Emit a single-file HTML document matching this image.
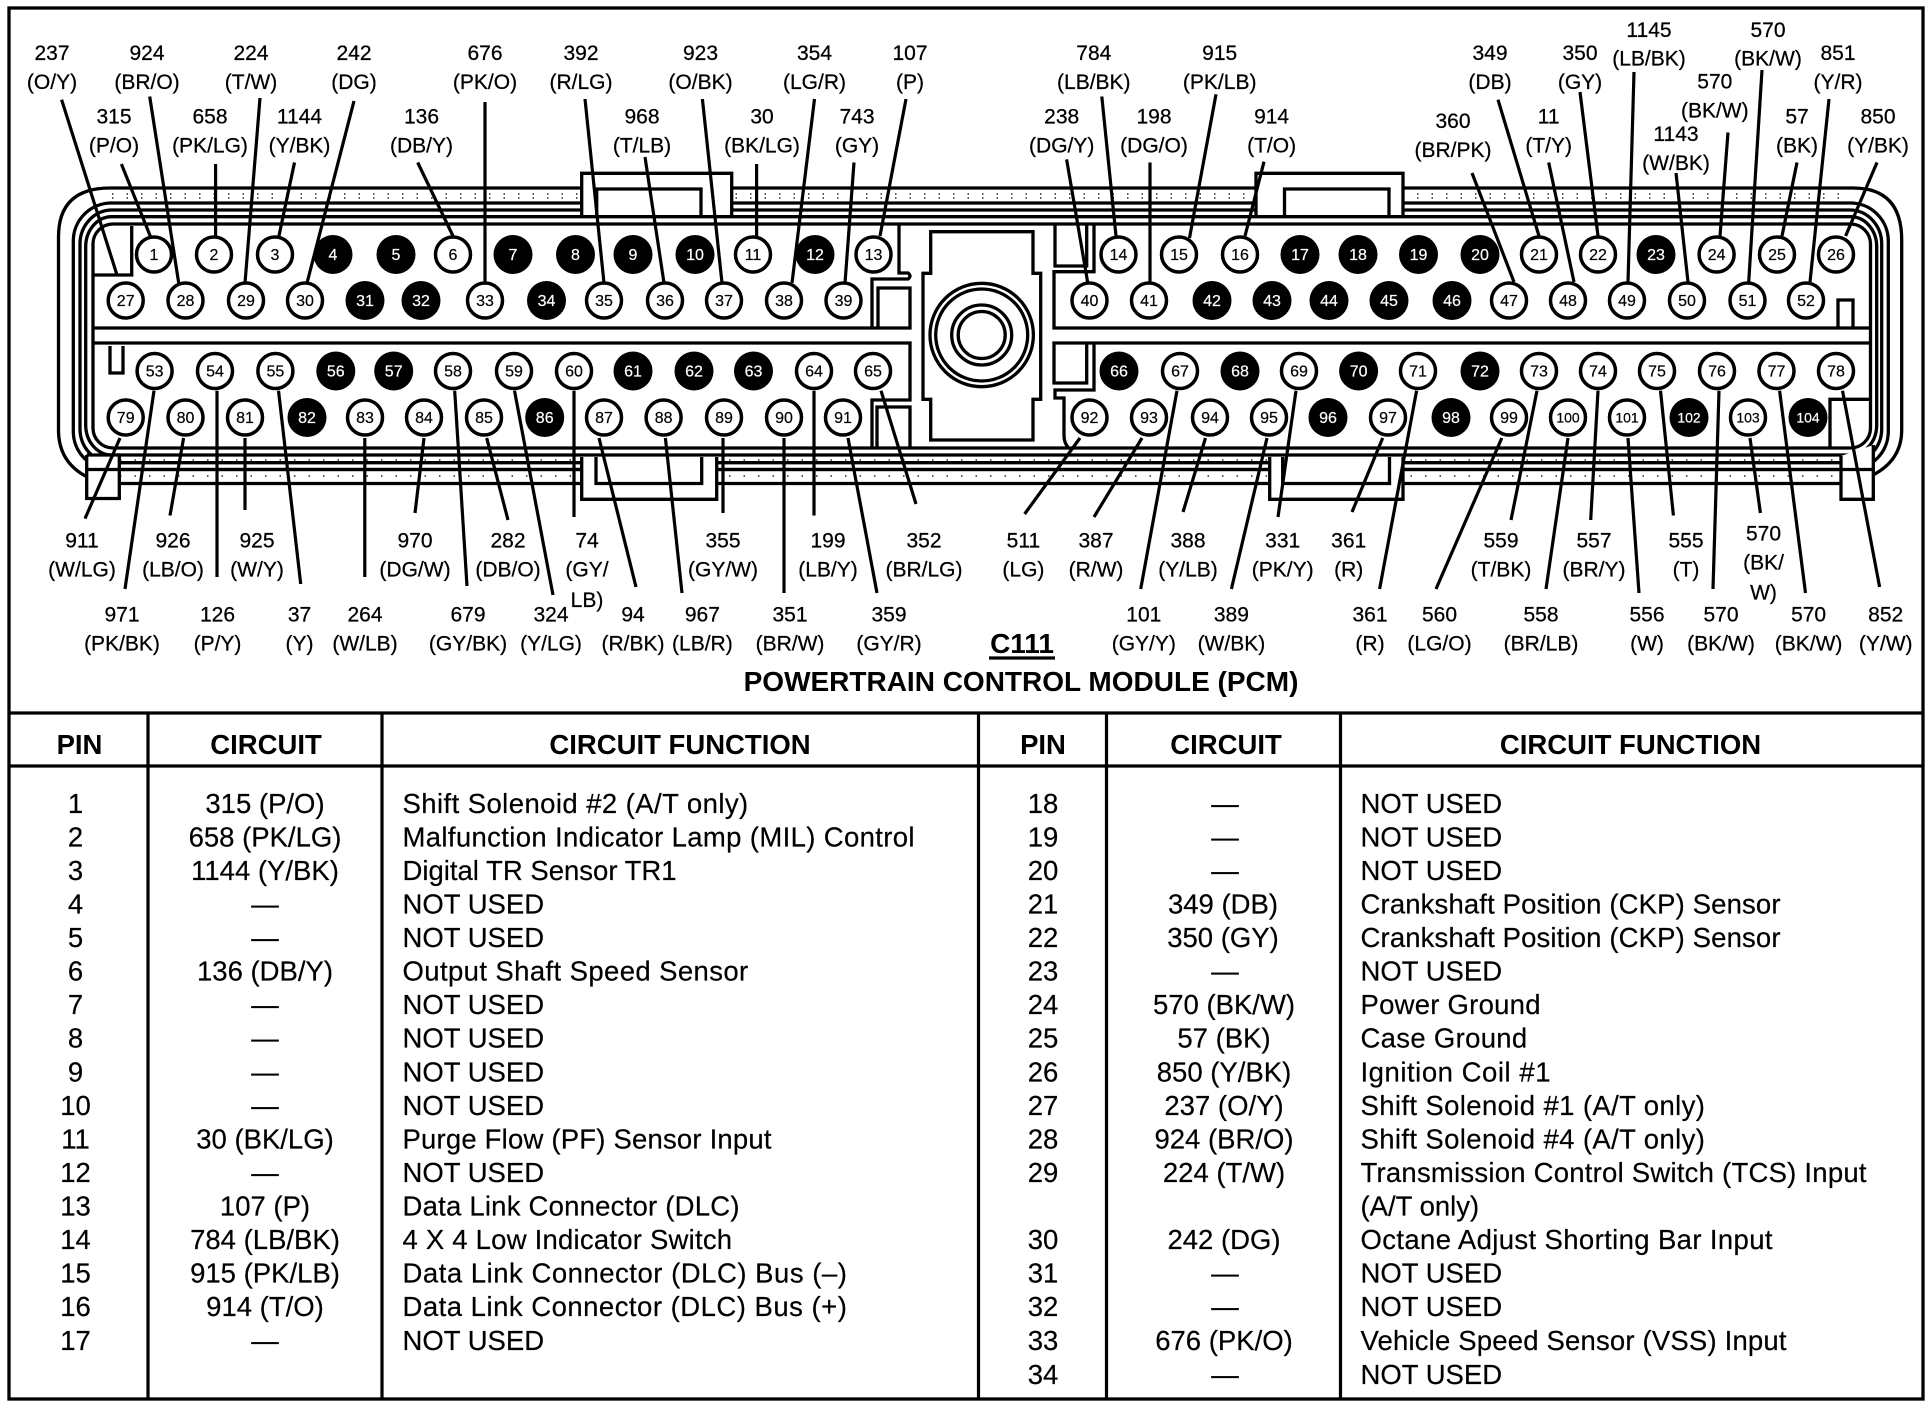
<!DOCTYPE html>
<html><head><meta charset="utf-8"><title>C111 PCM</title>
<style>
html,body{margin:0;padding:0;background:#fff}
svg{display:block}
text{font-family:"Liberation Sans",sans-serif;fill:#000}
.l{font-size:21px;text-anchor:middle;stroke:#000;stroke-width:.25}
.p{font-size:16px;text-anchor:middle;stroke:#000;stroke-width:.2}
.w{fill:#fff;stroke:#fff}
.s{fill:none;stroke:#000;stroke-width:3.3}
.f{fill:#fff;stroke:#000;stroke-width:3.3}
.c{fill:#fff;stroke:#000;stroke-width:3.5}
.t{font-size:27.5px;stroke:#000;stroke-width:.2}
.m{text-anchor:middle}
.h{font-size:27.5px;font-weight:bold;text-anchor:middle}
line{stroke:#000;stroke-width:3.2}
</style></head><body>
<svg xmlns="http://www.w3.org/2000/svg" width="1932" height="1408" viewBox="0 0 1932 1408">
<rect width="1932" height="1408" fill="#fff"/>
<rect x="9" y="8" width="1914" height="1391" class="s"/>
<!-- shell -->
<path class="s" d="M86.7,476.7 Q58.5,462 58.5,430 V237 Q58.5,188 110,188 H1853 Q1901.7,188 1901.7,240 V430 Q1901.7,460 1873,475"/>
<rect class="s" x="73.3" y="203" width="1815" height="266.5" rx="38" ry="38"/>
<rect class="s" x="80" y="210" width="1801.7" height="252.7" rx="32" ry="34"/>
<rect class="s" x="85.7" y="216.7" width="1791" height="238.3" rx="26" ry="30"/>
<path d="M112,194 H1850 M112,198 H1850 M112,225 H1850 M120,476 H1840 M120,460 H1840" fill="none" stroke="#000" stroke-width="1.2" stroke-dasharray="1.5 13"/>
<path class="f" d="M86.7,455 V498.5 H119.3 V455"/>
<path class="f" d="M1841,456 V499.3 H1873.3 V445"/>
<path class="s" d="M119.3,483.5 H1841 M86.7,469.5 H1873.3 M86.7,455 H120"/>
<!-- tabs -->
<path class="f" d="M581.7,215 V173.3 H731.7 V215"/>
<path class="s" d="M596.7,215 V189 H701 V215"/>
<path class="f" d="M1256,215 V173.3 H1403 V215"/>
<path class="s" d="M1284.5,215 V189 H1389 V215"/>
<path class="f" d="M581.7,457 V499.3 H716.7 V457"/>
<path class="s" d="M596,457 V483.5 H701.7 V457"/>
<path class="f" d="M1269.7,457 V499.3 H1403 V457"/>
<path class="s" d="M1282.7,457 V483.5 H1389.5 V457"/>
<!-- inner panels -->
<rect class="f" x="93" y="224" width="1777.5" height="224" rx="20"/>
<rect x="911" y="226" width="142" height="220" fill="#fff"/>
<path class="s" d="M899,224 V273 H908 Q912,276 908,279 H872 V328 H93 M878,328 V288 H910 V328 H872"/>
<path class="s" d="M93,343 H910 V400 H872 V448 M877,447 V407 H910 V447"/>
<path class="s" d="M1055,224 V266 H1086.7 V224 M1094,224 V271.7 H1054 V328 H1870"/>
<path class="s" d="M1870,343 H1054 V383 H1086.7 V343 M1094,343 V390 H1055 V398 H1064 V435 Q1064,443 1068,447"/>
<path class="s" d="M930.7,231.7 H1033 V273.3 H1040.7 V399.3 H1033 V440 H930.7 V399.3 H923 V273.3 H930.7 Z"/>
<path class="s" d="M93,275 H131.7 V226 M110,346 V373 H123 V346"/>
<path class="s" d="M1838,327 V300 H1853 V327 M1870,399.3 H1830 V447"/>
<circle class="s" cx="981.7" cy="335" r="51.7"/><circle class="s" cx="981.7" cy="335" r="46"/>
<circle class="s" cx="981.7" cy="335" r="30"/><circle class="s" cx="981.7" cy="335" r="23.5"/>
<!-- leaders -->
<line x1="61.6" y1="99.7" x2="117" y2="275"/><line x1="121.4" y1="164" x2="151" y2="238"/>
<line x1="149.7" y1="96.5" x2="178.7" y2="283"/><line x1="215.6" y1="164" x2="215.6" y2="236"/>
<line x1="260" y1="98" x2="245" y2="283"/><line x1="294.5" y1="162.5" x2="278.5" y2="238"/>
<line x1="354" y1="101" x2="307" y2="283"/><line x1="417.7" y1="162.5" x2="453" y2="236"/>
<line x1="485" y1="102" x2="485" y2="283"/><line x1="585" y1="99" x2="604" y2="283"/>
<line x1="645" y1="157" x2="664" y2="283"/><line x1="702.4" y1="99" x2="722" y2="283"/>
<line x1="756.6" y1="164" x2="756.6" y2="236"/><line x1="814.5" y1="99" x2="792" y2="283"/>
<line x1="854" y1="162.5" x2="845" y2="283"/><line x1="906" y1="99" x2="880" y2="236"/>
<line x1="1101.8" y1="96.5" x2="1116" y2="236"/><line x1="1066.6" y1="159.4" x2="1087.6" y2="282"/>
<line x1="1150" y1="162.5" x2="1150" y2="282"/><line x1="1216" y1="94.3" x2="1189.5" y2="238"/>
<line x1="1264" y1="161.7" x2="1245" y2="236"/><line x1="1472" y1="173" x2="1514" y2="282"/>
<line x1="1498" y1="99.7" x2="1539" y2="236"/><line x1="1548.7" y1="162.5" x2="1574" y2="282"/>
<line x1="1580" y1="92" x2="1598" y2="236"/><line x1="1634" y1="72" x2="1628" y2="282"/>
<line x1="1676" y1="173" x2="1688" y2="282"/><line x1="1728" y1="132.5" x2="1720" y2="236"/>
<line x1="1762" y1="70" x2="1748.7" y2="282"/><line x1="1797" y1="162.5" x2="1782" y2="236"/>
<line x1="1829" y1="99" x2="1810" y2="282"/><line x1="1877" y1="162.5" x2="1845.6" y2="236"/>
<line x1="120" y1="438" x2="85" y2="518.6"/><line x1="154" y1="390.7" x2="125" y2="589"/>
<line x1="183.6" y1="438" x2="170" y2="515.5"/><line x1="217" y1="390.7" x2="217" y2="577"/>
<line x1="245" y1="438" x2="245" y2="510"/><line x1="278.5" y1="390.7" x2="300.7" y2="584"/>
<line x1="364.8" y1="438" x2="364.8" y2="577"/><line x1="424" y1="438" x2="415" y2="513"/>
<line x1="454.7" y1="390.7" x2="467" y2="586"/><line x1="486.7" y1="438" x2="508" y2="520"/>
<line x1="514.5" y1="390.7" x2="553" y2="595"/><line x1="574" y1="390.7" x2="574" y2="517"/>
<line x1="599" y1="438" x2="636" y2="587"/><line x1="665.4" y1="438" x2="682" y2="593"/>
<line x1="723" y1="438" x2="723" y2="513"/><line x1="784" y1="438" x2="784" y2="593"/>
<line x1="814" y1="390.7" x2="814" y2="515.5"/><line x1="848" y1="438" x2="877" y2="593"/>
<line x1="881" y1="390.7" x2="916" y2="504"/>
<line x1="1080" y1="438" x2="1024.6" y2="514"/><line x1="1142" y1="438" x2="1094" y2="517"/>
<line x1="1205.5" y1="438" x2="1183" y2="512"/><line x1="1177" y1="390.7" x2="1140.7" y2="589"/>
<line x1="1267" y1="438" x2="1231.4" y2="589"/><line x1="1296" y1="390.7" x2="1278" y2="517"/>
<line x1="1382.7" y1="438" x2="1352" y2="512"/><line x1="1416.6" y1="390.7" x2="1379.6" y2="589"/>
<line x1="1501.8" y1="438" x2="1436" y2="589"/><line x1="1537" y1="390.7" x2="1511" y2="520"/>
<line x1="1568" y1="438" x2="1546" y2="589"/><line x1="1598" y1="390.7" x2="1590.7" y2="520"/>
<line x1="1628" y1="438" x2="1639" y2="593"/><line x1="1660.5" y1="390.7" x2="1673.4" y2="515.5"/>
<line x1="1719" y1="390.7" x2="1713" y2="589"/><line x1="1750" y1="438" x2="1760.4" y2="513"/>
<line x1="1779.6" y1="390.7" x2="1805.5" y2="593"/><line x1="1842.5" y1="390.7" x2="1879.6" y2="587"/>
<!-- pins row 1 -->
<circle class="c" cx="154" cy="254.5" r="17.5"/><text class="p" x="154" y="260">1</text>
<circle class="c" cx="214" cy="254.5" r="17.5"/><text class="p" x="214" y="260">2</text>
<circle class="c" cx="275" cy="254.5" r="17.5"/><text class="p" x="275" y="260">3</text>
<circle cx="333" cy="254.5" r="19.5"/><text class="p w" x="333" y="260">4</text>
<circle cx="396" cy="254.5" r="19.5"/><text class="p w" x="396" y="260">5</text>
<circle class="c" cx="453" cy="254.5" r="17.5"/><text class="p" x="453" y="260">6</text>
<circle cx="513" cy="254.5" r="19.5"/><text class="p w" x="513" y="260">7</text>
<circle cx="575.5" cy="254.5" r="19.5"/><text class="p w" x="575.5" y="260">8</text>
<circle cx="633" cy="254.5" r="19.5"/><text class="p w" x="633" y="260">9</text>
<circle cx="695" cy="254.5" r="19.5"/><text class="p w" x="695" y="260">10</text>
<circle class="c" cx="753" cy="254.5" r="17.5"/><text class="p" x="753" y="260">11</text>
<circle cx="815" cy="254.5" r="19.5"/><text class="p w" x="815" y="260">12</text>
<circle class="c" cx="873.5" cy="254.5" r="17.5"/><text class="p" x="873.5" y="260">13</text>
<circle class="c" cx="1118.5" cy="254.5" r="17.5"/><text class="p" x="1118.5" y="260">14</text>
<circle class="c" cx="1179" cy="254.5" r="17.5"/><text class="p" x="1179" y="260">15</text>
<circle class="c" cx="1240" cy="254.5" r="17.5"/><text class="p" x="1240" y="260">16</text>
<circle cx="1300" cy="254.5" r="19.5"/><text class="p w" x="1300" y="260">17</text>
<circle cx="1358" cy="254.5" r="19.5"/><text class="p w" x="1358" y="260">18</text>
<circle cx="1418.5" cy="254.5" r="19.5"/><text class="p w" x="1418.5" y="260">19</text>
<circle cx="1480" cy="254.5" r="19.5"/><text class="p w" x="1480" y="260">20</text>
<circle class="c" cx="1539" cy="254.5" r="17.5"/><text class="p" x="1539" y="260">21</text>
<circle class="c" cx="1598" cy="254.5" r="17.5"/><text class="p" x="1598" y="260">22</text>
<circle cx="1656" cy="254.5" r="19.5"/><text class="p w" x="1656" y="260">23</text>
<circle class="c" cx="1716.6" cy="254.5" r="17.5"/><text class="p" x="1716.6" y="260">24</text>
<circle class="c" cx="1777" cy="254.5" r="17.5"/><text class="p" x="1777" y="260">25</text>
<circle class="c" cx="1836" cy="254.5" r="17.5"/><text class="p" x="1836" y="260">26</text>
<!-- pins row 2 -->
<circle class="c" cx="125.7" cy="300.5" r="17.5"/><text class="p" x="125.7" y="306">27</text>
<circle class="c" cx="185.5" cy="300.5" r="17.5"/><text class="p" x="185.5" y="306">28</text>
<circle class="c" cx="246" cy="300.5" r="17.5"/><text class="p" x="246" y="306">29</text>
<circle class="c" cx="305" cy="300.5" r="17.5"/><text class="p" x="305" y="306">30</text>
<circle cx="365" cy="300.5" r="19.5"/><text class="p w" x="365" y="306">31</text>
<circle cx="421" cy="300.5" r="19.5"/><text class="p w" x="421" y="306">32</text>
<circle class="c" cx="485" cy="300.5" r="17.5"/><text class="p" x="485" y="306">33</text>
<circle cx="546.5" cy="300.5" r="19.5"/><text class="p w" x="546.5" y="306">34</text>
<circle class="c" cx="604" cy="300.5" r="17.5"/><text class="p" x="604" y="306">35</text>
<circle class="c" cx="665" cy="300.5" r="17.5"/><text class="p" x="665" y="306">36</text>
<circle class="c" cx="724" cy="300.5" r="17.5"/><text class="p" x="724" y="306">37</text>
<circle class="c" cx="784" cy="300.5" r="17.5"/><text class="p" x="784" y="306">38</text>
<circle class="c" cx="843.5" cy="300.5" r="17.5"/><text class="p" x="843.5" y="306">39</text>
<circle class="c" cx="1089.5" cy="300.5" r="17.5"/><text class="p" x="1089.5" y="306">40</text>
<circle class="c" cx="1149" cy="300.5" r="17.5"/><text class="p" x="1149" y="306">41</text>
<circle cx="1212" cy="300.5" r="19.5"/><text class="p w" x="1212" y="306">42</text>
<circle cx="1272" cy="300.5" r="19.5"/><text class="p w" x="1272" y="306">43</text>
<circle cx="1329" cy="300.5" r="19.5"/><text class="p w" x="1329" y="306">44</text>
<circle cx="1389" cy="300.5" r="19.5"/><text class="p w" x="1389" y="306">45</text>
<circle cx="1452" cy="300.5" r="19.5"/><text class="p w" x="1452" y="306">46</text>
<circle class="c" cx="1509" cy="300.5" r="17.5"/><text class="p" x="1509" y="306">47</text>
<circle class="c" cx="1568" cy="300.5" r="17.5"/><text class="p" x="1568" y="306">48</text>
<circle class="c" cx="1627" cy="300.5" r="17.5"/><text class="p" x="1627" y="306">49</text>
<circle class="c" cx="1687" cy="300.5" r="17.5"/><text class="p" x="1687" y="306">50</text>
<circle class="c" cx="1747.5" cy="300.5" r="17.5"/><text class="p" x="1747.5" y="306">51</text>
<circle class="c" cx="1806" cy="300.5" r="17.5"/><text class="p" x="1806" y="306">52</text>
<!-- pins row 3 -->
<circle class="c" cx="154.6" cy="371" r="17.5"/><text class="p" x="154.6" y="376.5">53</text>
<circle class="c" cx="215" cy="371" r="17.5"/><text class="p" x="215" y="376.5">54</text>
<circle class="c" cx="275.4" cy="371" r="17.5"/><text class="p" x="275.4" y="376.5">55</text>
<circle cx="335.8" cy="371" r="19.5"/><text class="p w" x="335.8" y="376.5">56</text>
<circle cx="393.7" cy="371" r="19.5"/><text class="p w" x="393.7" y="376.5">57</text>
<circle class="c" cx="453" cy="371" r="17.5"/><text class="p" x="453" y="376.5">58</text>
<circle class="c" cx="514" cy="371" r="17.5"/><text class="p" x="514" y="376.5">59</text>
<circle class="c" cx="574" cy="371" r="17.5"/><text class="p" x="574" y="376.5">60</text>
<circle cx="633" cy="371" r="19.5"/><text class="p w" x="633" y="376.5">61</text>
<circle cx="694" cy="371" r="19.5"/><text class="p w" x="694" y="376.5">62</text>
<circle cx="753.5" cy="371" r="19.5"/><text class="p w" x="753.5" y="376.5">63</text>
<circle class="c" cx="814" cy="371" r="17.5"/><text class="p" x="814" y="376.5">64</text>
<circle class="c" cx="873" cy="371" r="17.5"/><text class="p" x="873" y="376.5">65</text>
<circle cx="1119" cy="371" r="19.5"/><text class="p w" x="1119" y="376.5">66</text>
<circle class="c" cx="1180" cy="371" r="17.5"/><text class="p" x="1180" y="376.5">67</text>
<circle cx="1240" cy="371" r="19.5"/><text class="p w" x="1240" y="376.5">68</text>
<circle class="c" cx="1299" cy="371" r="17.5"/><text class="p" x="1299" y="376.5">69</text>
<circle cx="1358.6" cy="371" r="19.5"/><text class="p w" x="1358.6" y="376.5">70</text>
<circle class="c" cx="1418" cy="371" r="17.5"/><text class="p" x="1418" y="376.5">71</text>
<circle cx="1480" cy="371" r="19.5"/><text class="p w" x="1480" y="376.5">72</text>
<circle class="c" cx="1539" cy="371" r="17.5"/><text class="p" x="1539" y="376.5">73</text>
<circle class="c" cx="1598" cy="371" r="17.5"/><text class="p" x="1598" y="376.5">74</text>
<circle class="c" cx="1657" cy="371" r="17.5"/><text class="p" x="1657" y="376.5">75</text>
<circle class="c" cx="1717" cy="371" r="17.5"/><text class="p" x="1717" y="376.5">76</text>
<circle class="c" cx="1776.5" cy="371" r="17.5"/><text class="p" x="1776.5" y="376.5">77</text>
<circle class="c" cx="1836" cy="371" r="17.5"/><text class="p" x="1836" y="376.5">78</text>
<!-- pins row 4 -->
<circle class="c" cx="125.7" cy="417.5" r="17.5"/><text class="p" x="125.7" y="423">79</text>
<circle class="c" cx="185.5" cy="417.5" r="17.5"/><text class="p" x="185.5" y="423">80</text>
<circle class="c" cx="245" cy="417.5" r="17.5"/><text class="p" x="245" y="423">81</text>
<circle cx="307" cy="417.5" r="19.5"/><text class="p w" x="307" y="423">82</text>
<circle class="c" cx="365" cy="417.5" r="17.5"/><text class="p" x="365" y="423">83</text>
<circle class="c" cx="424" cy="417.5" r="17.5"/><text class="p" x="424" y="423">84</text>
<circle class="c" cx="484" cy="417.5" r="17.5"/><text class="p" x="484" y="423">85</text>
<circle cx="544.7" cy="417.5" r="19.5"/><text class="p w" x="544.7" y="423">86</text>
<circle class="c" cx="604" cy="417.5" r="17.5"/><text class="p" x="604" y="423">87</text>
<circle class="c" cx="663.6" cy="417.5" r="17.5"/><text class="p" x="663.6" y="423">88</text>
<circle class="c" cx="724" cy="417.5" r="17.5"/><text class="p" x="724" y="423">89</text>
<circle class="c" cx="784" cy="417.5" r="17.5"/><text class="p" x="784" y="423">90</text>
<circle class="c" cx="843" cy="417.5" r="17.5"/><text class="p" x="843" y="423">91</text>
<circle class="c" cx="1089.5" cy="417.5" r="17.5"/><text class="p" x="1089.5" y="423">92</text>
<circle class="c" cx="1149" cy="417.5" r="17.5"/><text class="p" x="1149" y="423">93</text>
<circle class="c" cx="1210" cy="417.5" r="17.5"/><text class="p" x="1210" y="423">94</text>
<circle class="c" cx="1269" cy="417.5" r="17.5"/><text class="p" x="1269" y="423">95</text>
<circle cx="1328" cy="417.5" r="19.5"/><text class="p w" x="1328" y="423">96</text>
<circle class="c" cx="1388" cy="417.5" r="17.5"/><text class="p" x="1388" y="423">97</text>
<circle cx="1451" cy="417.5" r="19.5"/><text class="p w" x="1451" y="423">98</text>
<circle class="c" cx="1509" cy="417.5" r="17.5"/><text class="p" x="1509" y="423">99</text>
<circle class="c" cx="1568" cy="417.5" r="17.5"/><text class="p" style="font-size:14px" x="1568" y="422.5">100</text>
<circle class="c" cx="1627" cy="417.5" r="17.5"/><text class="p" style="font-size:14px" x="1627" y="422.5">101</text>
<circle cx="1689" cy="417.5" r="19.5"/><text class="p w" style="font-size:14px" x="1689" y="422.5">102</text>
<circle class="c" cx="1748" cy="417.5" r="17.5"/><text class="p" style="font-size:14px" x="1748" y="422.5">103</text>
<circle cx="1808" cy="417.5" r="19.5"/><text class="p w" style="font-size:14px" x="1808" y="422.5">104</text>
<!-- top labels -->
<text class="l" x="52" y="60">237</text><text class="l" x="52" y="89">(O/Y)</text>
<text class="l" x="147" y="60">924</text><text class="l" x="147" y="89">(BR/O)</text>
<text class="l" x="251" y="60">224</text><text class="l" x="251" y="89">(T/W)</text>
<text class="l" x="354" y="60">242</text><text class="l" x="354" y="89">(DG)</text>
<text class="l" x="485" y="60">676</text><text class="l" x="485" y="89">(PK/O)</text>
<text class="l" x="581" y="60">392</text><text class="l" x="581" y="89">(R/LG)</text>
<text class="l" x="700.5" y="60">923</text><text class="l" x="700.5" y="89">(O/BK)</text>
<text class="l" x="814.5" y="60">354</text><text class="l" x="814.5" y="89">(LG/R)</text>
<text class="l" x="910" y="60">107</text><text class="l" x="910" y="89">(P)</text>
<text class="l" x="114" y="123.5">315</text><text class="l" x="114" y="152.5">(P/O)</text>
<text class="l" x="210" y="123.5">658</text><text class="l" x="210" y="152.5">(PK/LG)</text>
<text class="l" x="299.5" y="123.5">1144</text><text class="l" x="299.5" y="152.5">(Y/BK)</text>
<text class="l" x="421.5" y="123.5">136</text><text class="l" x="421.5" y="152.5">(DB/Y)</text>
<text class="l" x="642" y="123.5">968</text><text class="l" x="642" y="152.5">(T/LB)</text>
<text class="l" x="762" y="123.5">30</text><text class="l" x="762" y="152.5">(BK/LG)</text>
<text class="l" x="857" y="123.5">743</text><text class="l" x="857" y="152.5">(GY)</text>
<text class="l" x="1093.8" y="60">784</text><text class="l" x="1093.8" y="89">(LB/BK)</text>
<text class="l" x="1219.7" y="60">915</text><text class="l" x="1219.7" y="89">(PK/LB)</text>
<text class="l" x="1061.7" y="123.5">238</text><text class="l" x="1061.7" y="152.5">(DG/Y)</text>
<text class="l" x="1154" y="123.5">198</text><text class="l" x="1154" y="152.5">(DG/O)</text>
<text class="l" x="1271.6" y="123.5">914</text><text class="l" x="1271.6" y="152.5">(T/O)</text>
<text class="l" x="1490" y="60">349</text><text class="l" x="1490" y="89">(DB)</text>
<text class="l" x="1580" y="60">350</text><text class="l" x="1580" y="89">(GY)</text>
<text class="l" x="1649" y="37">1145</text><text class="l" x="1649" y="65.5">(LB/BK)</text>
<text class="l" x="1768" y="37">570</text><text class="l" x="1768" y="65.5">(BK/W)</text>
<text class="l" x="1838" y="60">851</text><text class="l" x="1838" y="89">(Y/R)</text>
<text class="l" x="1714.8" y="88.5">570</text><text class="l" x="1714.8" y="117.5">(BK/W)</text>
<text class="l" x="1676" y="141">1143</text><text class="l" x="1676" y="170">(W/BK)</text>
<text class="l" x="1453" y="128">360</text><text class="l" x="1453" y="157">(BR/PK)</text>
<text class="l" x="1548.7" y="123.5">11</text><text class="l" x="1548.7" y="152.5">(T/Y)</text>
<text class="l" x="1797" y="123.5">57</text><text class="l" x="1797" y="152.5">(BK)</text>
<text class="l" x="1878" y="123.5">850</text><text class="l" x="1878" y="152.5">(Y/BK)</text>
<!-- bottom labels row A -->
<text class="l" x="82" y="547.5">911</text><text class="l" x="82" y="576.5">(W/LG)</text>
<text class="l" x="173" y="547.5">926</text><text class="l" x="173" y="576.5">(LB/O)</text>
<text class="l" x="257" y="547.5">925</text><text class="l" x="257" y="576.5">(W/Y)</text>
<text class="l" x="415" y="547.5">970</text><text class="l" x="415" y="576.5">(DG/W)</text>
<text class="l" x="508" y="547.5">282</text><text class="l" x="508" y="576.5">(DB/O)</text>
<text class="l" x="587" y="547.5">74</text><text class="l" x="587" y="576.5">(GY/</text><text class="l" x="587" y="607">LB)</text>
<text class="l" x="723" y="547.5">355</text><text class="l" x="723" y="576.5">(GY/W)</text>
<text class="l" x="828" y="547.5">199</text><text class="l" x="828" y="576.5">(LB/Y)</text>
<text class="l" x="924" y="547.5">352</text><text class="l" x="924" y="576.5">(BR/LG)</text>
<text class="l" x="1023.4" y="547.5">511</text><text class="l" x="1023.4" y="576.5">(LG)</text>
<text class="l" x="1096" y="547.5">387</text><text class="l" x="1096" y="576.5">(R/W)</text>
<text class="l" x="1188" y="547.5">388</text><text class="l" x="1188" y="576.5">(Y/LB)</text>
<text class="l" x="1282.7" y="547.5">331</text><text class="l" x="1282.7" y="576.5">(PK/Y)</text>
<text class="l" x="1348.7" y="547.5">361</text><text class="l" x="1348.7" y="576.5">(R)</text>
<text class="l" x="1501" y="547.5">559</text><text class="l" x="1501" y="576.5">(T/BK)</text>
<text class="l" x="1594" y="547.5">557</text><text class="l" x="1594" y="576.5">(BR/Y)</text>
<text class="l" x="1686" y="547.5">555</text><text class="l" x="1686" y="576.5">(T)</text>
<text class="l" x="1763.5" y="540.5">570</text><text class="l" x="1763.5" y="569.5">(BK/</text><text class="l" x="1763.5" y="599.5">W)</text>
<!-- bottom labels row B -->
<text class="l" x="122" y="621.5">971</text><text class="l" x="122" y="650.5">(PK/BK)</text>
<text class="l" x="217.5" y="621.5">126</text><text class="l" x="217.5" y="650.5">(P/Y)</text>
<text class="l" x="299.5" y="621.5">37</text><text class="l" x="299.5" y="650.5">(Y)</text>
<text class="l" x="365" y="621.5">264</text><text class="l" x="365" y="650.5">(W/LB)</text>
<text class="l" x="468" y="621.5">679</text><text class="l" x="468" y="650.5">(GY/BK)</text>
<text class="l" x="551" y="621.5">324</text><text class="l" x="551" y="650.5">(Y/LG)</text>
<text class="l" x="633" y="621.5">94</text><text class="l" x="633" y="650.5">(R/BK)</text>
<text class="l" x="702.4" y="621.5">967</text><text class="l" x="702.4" y="650.5">(LB/R)</text>
<text class="l" x="790" y="621.5">351</text><text class="l" x="790" y="650.5">(BR/W)</text>
<text class="l" x="889" y="621.5">359</text><text class="l" x="889" y="650.5">(GY/R)</text>
<text class="l" x="1143.8" y="621.5">101</text><text class="l" x="1143.8" y="650.5">(GY/Y)</text>
<text class="l" x="1231.4" y="621.5">389</text><text class="l" x="1231.4" y="650.5">(W/BK)</text>
<text class="l" x="1370" y="621.5">361</text><text class="l" x="1370" y="650.5">(R)</text>
<text class="l" x="1439.5" y="621.5">560</text><text class="l" x="1439.5" y="650.5">(LG/O)</text>
<text class="l" x="1541" y="621.5">558</text><text class="l" x="1541" y="650.5">(BR/LB)</text>
<text class="l" x="1647" y="621.5">556</text><text class="l" x="1647" y="650.5">(W)</text>
<text class="l" x="1721" y="621.5">570</text><text class="l" x="1721" y="650.5">(BK/W)</text>
<text class="l" x="1808.6" y="621.5">570</text><text class="l" x="1808.6" y="650.5">(BK/W)</text>
<text class="l" x="1885.7" y="621.5">852</text><text class="l" x="1885.7" y="650.5">(Y/W)</text>
<text x="1022" y="653" text-anchor="middle" font-size="28" font-weight="bold">C111</text>
<line x1="989" y1="658" x2="1055" y2="658"/>
<text x="1021" y="691" text-anchor="middle" font-size="28" font-weight="bold">POWERTRAIN CONTROL MODULE (PCM)</text>
<!-- table frame -->
<line x1="9" y1="713" x2="1923" y2="713"/>
<line x1="9" y1="766" x2="1923" y2="766"/>
<line x1="148" y1="713" x2="148" y2="1399"/><line x1="382" y1="713" x2="382" y2="1399"/>
<line x1="978.5" y1="713" x2="978.5" y2="1399"/><line x1="1106.5" y1="713" x2="1106.5" y2="1399"/>
<line x1="1340.5" y1="713" x2="1340.5" y2="1399"/>
<text class="h" x="79.5" y="754">PIN</text><text class="h" x="266" y="754">CIRCUIT</text><text class="h" x="680" y="754">CIRCUIT FUNCTION</text>
<text class="h" x="1043" y="754">PIN</text><text class="h" x="1226" y="754">CIRCUIT</text><text class="h" x="1630.5" y="754">CIRCUIT FUNCTION</text>
<!-- left table -->
<text class="t m" x="75.5" y="812.8">1</text><text class="t m" x="265" y="812.8">315 (P/O)</text><text class="t" x="402.5" y="812.8" textLength="345.7">Shift Solenoid #2 (A/T only)</text>
<text class="t m" x="75.5" y="846.4">2</text><text class="t m" x="265" y="846.4">658 (PK/LG)</text><text class="t" x="402.5" y="846.4" textLength="512">Malfunction Indicator Lamp (MIL) Control</text>
<text class="t m" x="75.5" y="879.9">3</text><text class="t m" x="265" y="879.9">1144 (Y/BK)</text><text class="t" x="402.5" y="879.9">Digital TR Sensor TR1</text>
<text class="t m" x="75.5" y="913.5">4</text><text class="t m" x="265" y="913.5">—</text><text class="t" x="402.5" y="913.5">NOT USED</text>
<text class="t m" x="75.5" y="947">5</text><text class="t m" x="265" y="947">—</text><text class="t" x="402.5" y="947">NOT USED</text>
<text class="t m" x="75.5" y="980.6">6</text><text class="t m" x="265" y="980.6">136 (DB/Y)</text><text class="t" x="402.5" y="980.6" textLength="345.7">Output Shaft Speed Sensor</text>
<text class="t m" x="75.5" y="1014.2">7</text><text class="t m" x="265" y="1014.2">—</text><text class="t" x="402.5" y="1014.2">NOT USED</text>
<text class="t m" x="75.5" y="1047.7">8</text><text class="t m" x="265" y="1047.7">—</text><text class="t" x="402.5" y="1047.7">NOT USED</text>
<text class="t m" x="75.5" y="1081.3">9</text><text class="t m" x="265" y="1081.3">—</text><text class="t" x="402.5" y="1081.3">NOT USED</text>
<text class="t m" x="75.5" y="1114.8">10</text><text class="t m" x="265" y="1114.8">—</text><text class="t" x="402.5" y="1114.8">NOT USED</text>
<text class="t m" x="75.5" y="1148.4">11</text><text class="t m" x="265" y="1148.4">30 (BK/LG)</text><text class="t" x="402.5" y="1148.4" textLength="369">Purge Flow (PF) Sensor Input</text>
<text class="t m" x="75.5" y="1182">12</text><text class="t m" x="265" y="1182">—</text><text class="t" x="402.5" y="1182">NOT USED</text>
<text class="t m" x="75.5" y="1215.5">13</text><text class="t m" x="265" y="1215.5">107 (P)</text><text class="t" x="402.5" y="1215.5" textLength="337">Data Link Connector (DLC)</text>
<text class="t m" x="75.5" y="1249.1">14</text><text class="t m" x="265" y="1249.1">784 (LB/BK)</text><text class="t" x="402.5" y="1249.1" textLength="329.6">4 X 4 Low Indicator Switch</text>
<text class="t m" x="75.5" y="1282.6">15</text><text class="t m" x="265" y="1282.6">915 (PK/LB)</text><text class="t" x="402.5" y="1282.6" textLength="444.4">Data Link Connector (DLC) Bus (–)</text>
<text class="t m" x="75.5" y="1316.2">16</text><text class="t m" x="265" y="1316.2">914 (T/O)</text><text class="t" x="402.5" y="1316.2" textLength="444.4">Data Link Connector (DLC) Bus (+)</text>
<text class="t m" x="75.5" y="1349.8">17</text><text class="t m" x="265" y="1349.8">—</text><text class="t" x="402.5" y="1349.8">NOT USED</text>
<!-- right table -->
<text class="t m" x="1043" y="812.8">18</text><text class="t m" x="1225" y="812.8">—</text><text class="t" x="1360.5" y="812.8">NOT USED</text>
<text class="t m" x="1043" y="846.4">19</text><text class="t m" x="1225" y="846.4">—</text><text class="t" x="1360.5" y="846.4">NOT USED</text>
<text class="t m" x="1043" y="879.9">20</text><text class="t m" x="1225" y="879.9">—</text><text class="t" x="1360.5" y="879.9">NOT USED</text>
<text class="t m" x="1043" y="913.5">21</text><text class="t m" x="1223" y="913.5">349 (DB)</text><text class="t" x="1360.5" y="913.5" textLength="420">Crankshaft Position (CKP) Sensor</text>
<text class="t m" x="1043" y="947">22</text><text class="t m" x="1223" y="947">350 (GY)</text><text class="t" x="1360.5" y="947" textLength="420">Crankshaft Position (CKP) Sensor</text>
<text class="t m" x="1043" y="980.6">23</text><text class="t m" x="1225" y="980.6">—</text><text class="t" x="1360.5" y="980.6">NOT USED</text>
<text class="t m" x="1043" y="1014.2">24</text><text class="t m" x="1224" y="1014.2">570 (BK/W)</text><text class="t" x="1360.5" y="1014.2" textLength="180">Power Ground</text>
<text class="t m" x="1043" y="1047.7">25</text><text class="t m" x="1224" y="1047.7">57 (BK)</text><text class="t" x="1360.5" y="1047.7" textLength="166.7">Case Ground</text>
<text class="t m" x="1043" y="1081.3">26</text><text class="t m" x="1224" y="1081.3">850 (Y/BK)</text><text class="t" x="1360.5" y="1081.3" textLength="190">Ignition Coil #1</text>
<text class="t m" x="1043" y="1114.8">27</text><text class="t m" x="1224" y="1114.8">237 (O/Y)</text><text class="t" x="1360.5" y="1114.8" textLength="344.4">Shift Solenoid #1 (A/T only)</text>
<text class="t m" x="1043" y="1148.4">28</text><text class="t m" x="1224" y="1148.4">924 (BR/O)</text><text class="t" x="1360.5" y="1148.4" textLength="344.4">Shift Solenoid #4 (A/T only)</text>
<text class="t m" x="1043" y="1182">29</text><text class="t m" x="1224" y="1182">224 (T/W)</text><text class="t" x="1360.5" y="1182" textLength="506">Transmission Control Switch (TCS) Input</text>
<text class="t" x="1360.5" y="1215.5">(A/T only)</text>
<text class="t m" x="1043" y="1249.1">30</text><text class="t m" x="1224" y="1249.1">242 (DG)</text><text class="t" x="1360.5" y="1249.1" textLength="412">Octane Adjust Shorting Bar Input</text>
<text class="t m" x="1043" y="1282.6">31</text><text class="t m" x="1225" y="1282.6">—</text><text class="t" x="1360.5" y="1282.6">NOT USED</text>
<text class="t m" x="1043" y="1316.2">32</text><text class="t m" x="1225" y="1316.2">—</text><text class="t" x="1360.5" y="1316.2">NOT USED</text>
<text class="t m" x="1043" y="1349.8">33</text><text class="t m" x="1224" y="1349.8">676 (PK/O)</text><text class="t" x="1360.5" y="1349.8" textLength="426">Vehicle Speed Sensor (VSS) Input</text>
<text class="t m" x="1043" y="1383.8">34</text><text class="t m" x="1225" y="1383.8">—</text><text class="t" x="1360.5" y="1383.8">NOT USED</text>
</svg>
</body></html>
